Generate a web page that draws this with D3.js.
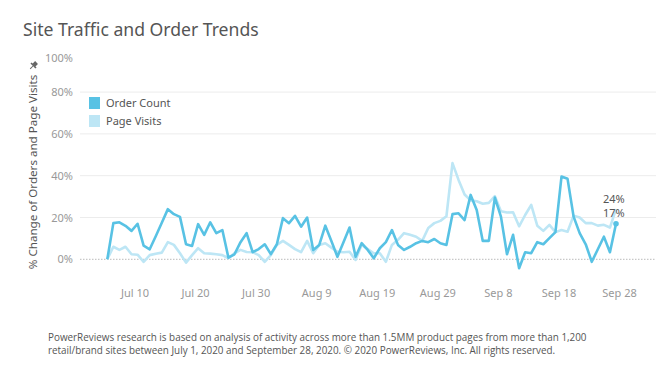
<!DOCTYPE html>
<html>
<head>
<meta charset="utf-8">
<script src="https://cdn.jsdelivr.net/npm/d3@7"></script>
<style>
  body { margin: 0; background: #fff; }
  svg { display: block; }
</style>
</head>
<body>
<div id="chart"></div>
<script>
// first day of the series, one value per day
const startDate = new Date(2020, 6, 6);

// % change of order count
const orderCount = [
  0, 17.3, 17.7, 16, 13.6, 17, 6.5, 4.8, 11, 17.5,
  24, 21.6, 20.3, 7.2, 6.4, 16.8, 11.7, 17.7, 12.5, 14,
  0.8, 2.4, 8.2, 12.5, 3.4, 4.9, 7.2, 2.5, 7.2, 19.7,
  17.3, 20.8, 15.6, 20, 4.5, 6.9, 16.1, 8.8, 1.2, 8.2,
  15.2, 1.2, 7.7, 4.5, 0.5, 5.3, 8.2, 14, 6.9, 4.5,
  6, 7.7, 8.8, 8.2, 9.7, 7.7, 6.9, 21.6, 22, 18.8,
  30.8, 23.6, 8.8, 8.8, 29.5, 20.4, 2.4, 11.7, -4.3, 3.4,
  2.9, 8.2, 7.2, 10.1, 13, 39.6, 38.5, 20.4, 12.5, 7.2,
  -1.2, 4.8, 10.8, 3.4, 17
];

// % change of page visits
const pageVisits = [
  0, 6, 4.5, 6, 2.4, 2.2, -1.2, 2, 2.7, 3.2,
  8.2, 6.9, 2.9, -1.6, 2, 5.3, 2.9, 2.7, 2.4, 2,
  0.5, 2.9, 4.5, 3.5, 3.4, 2, -1.2, 2, 6.9, 8.8,
  6.9, 4.9, 3.4, 8.8, 2.9, 6.9, 7.7, 5.6, 3.6, 3.4,
  3.6, -0.3, 6.9, 4.9, 2.9, 2.9, -1.2, 6.9, 9.3, 12.5,
  11.7, 10.8, 8.8, 15, 17.3, 18.4, 20.6, 46, 38, 31,
  28.2, 27.8, 26.6, 27, 30.2, 23, 22.4, 22.5, 15.8, 21.2,
  26, 16.1, 13.6, 16.5, 13, 14, 13.2, 20.9, 20, 17.3,
  17.3, 16.1, 16.5, 15.2, 24
];

const yTicks = [0, 20, 40, 60, 80, 100];
const xTickDates = [
  new Date(2020, 6, 10), new Date(2020, 6, 20), new Date(2020, 6, 30),
  new Date(2020, 7, 9), new Date(2020, 7, 19), new Date(2020, 7, 29),
  new Date(2020, 8, 8), new Date(2020, 8, 18), new Date(2020, 8, 28)
];

const seriesNames = ['Order Count', 'Page Visits'];
const endLabels = ['24%', '17%'];

const width = 660, height = 368;
const darkBlue = '#58c2e4';
const lightBlue = '#bde6f5';

const svg = d3.select('#chart').append('svg')
  .attr('width', width)
  .attr('height', height);

const dayOf = i => d3.timeDay.offset(startDate, i);

const x = d3.scaleTime()
  .domain([startDate, dayOf(orderCount.length - 1)])
  .range([107.3, 616]);

const y = d3.scaleLinear()
  .domain([0, 100])
  .range([259.3, 50.3]);

// title
svg.append('text')
  .attr('x', 23)
  .attr('y', 36)
  .style('font-family', '"Noto Sans", sans-serif')
  .style('font-size', '17.6px')
  .style('fill', '#555')
  .text('Site Traffic and Order Trends');

// gridlines
svg.append('g')
  .selectAll('line')
  .data(yTicks.filter(t => t > 0 && t < 100))
  .join('line')
  .attr('x1', 80).attr('x2', 656)
  .attr('y1', d => y(d)).attr('y2', d => y(d))
  .attr('stroke', '#ececec')
  .attr('stroke-width', 1);

// zero line, dotted
svg.append('line')
  .attr('x1', 80).attr('x2', 656)
  .attr('y1', y(0)).attr('y2', y(0))
  .attr('stroke', '#bbb')
  .attr('stroke-dasharray', '1.5,1.5');

// y axis labels
const yAxis = svg.append('g')
  .attr('transform', 'translate(76,0)')
  .call(d3.axisLeft(y).tickValues(yTicks).tickFormat(d => d + '%').tickSize(0));
yAxis.select('.domain').remove();
yAxis.selectAll('text')
  .style('font-family', '"Noto Sans", sans-serif')
  .style('font-size', '11px')
  .style('fill', '#999')
  .attr('dy', d => d === 100 ? '1.0em' : '0.32em');

// x axis labels
const xAxis = svg.append('g')
  .attr('transform', 'translate(0,286)')
  .call(d3.axisBottom(x).tickValues(xTickDates).tickFormat(d3.timeFormat('%b %-d')).tickSize(0));
xAxis.select('.domain').remove();
xAxis.selectAll('text')
  .attr('dx', 3)
  .style('font-family', '"Noto Sans", sans-serif')
  .style('font-size', '11px')
  .style('fill', '#999');

// y axis title
svg.append('text')
  .attr('transform', 'translate(37,172) rotate(-90)')
  .attr('text-anchor', 'middle')
  .style('font-family', '"Noto Sans", sans-serif')
  .style('font-size', '11.6px')
  .style('fill', '#555')
  .text('% Change of Orders and Page Visits');

// little pin next to the axis title
const pin = svg.append('g')
  .attr('transform', 'translate(33,66) rotate(45)')
  .attr('fill', '#666');
pin.append('rect').attr('x', -2).attr('y', -5).attr('width', 4).attr('height', 4);
pin.append('rect').attr('x', -3.5).attr('y', -1.5).attr('width', 7).attr('height', 1.6);
pin.append('line').attr('x1', 0).attr('x2', 0).attr('y1', 0).attr('y2', 4)
  .attr('stroke', '#666').attr('stroke-width', 1);

// lines
const line = d3.line()
  .x((d, i) => x(dayOf(i)))
  .y(d => y(d));

svg.append('path')
  .datum(pageVisits)
  .attr('fill', 'none')
  .attr('stroke', lightBlue)
  .attr('stroke-width', 2.6)
  .attr('stroke-linejoin', 'round')
  .attr('d', line);

svg.append('path')
  .datum(orderCount)
  .attr('fill', 'none')
  .attr('stroke', darkBlue)
  .attr('stroke-width', 2.6)
  .attr('stroke-linejoin', 'round')
  .attr('d', line);

// end dot on order count
const last = orderCount.length - 1;
svg.append('circle')
  .attr('cx', x(dayOf(last)))
  .attr('cy', y(orderCount[last]))
  .attr('r', 2.8)
  .attr('fill', darkBlue);

// end labels
svg.selectAll('.endLabel')
  .data(endLabels)
  .join('text')
  .attr('class', 'endLabel')
  .attr('x', 603)
  .attr('y', (d, i) => 203 + i * 14)
  .style('font-family', '"Noto Sans", sans-serif')
  .style('font-size', '11px')
  .style('fill', '#555')
  .text(d => d);

// legend
const legend = svg.append('g').attr('transform', 'translate(89,97)');
legend.selectAll('rect')
  .data(seriesNames)
  .join('rect')
  .attr('x', 0)
  .attr('y', (d, i) => i * 18)
  .attr('width', 11)
  .attr('height', 12)
  .attr('fill', (d, i) => i === 0 ? darkBlue : lightBlue);
legend.selectAll('text')
  .data(seriesNames)
  .join('text')
  .attr('x', 17)
  .attr('y', (d, i) => i * 18 + 10)
  .style('font-family', '"Noto Sans", sans-serif')
  .style('font-size', '11px')
  .style('fill', '#555')
  .text(d => d);

// footnote
const notes = [
  'PowerReviews research is based on analysis of activity across more than 1.5MM product pages from more than 1,200',
  'retail/brand sites between July 1, 2020 and September 28, 2020. \u00a9 2020 PowerReviews, Inc. All rights reserved.'
];
svg.selectAll('.note')
  .data(notes)
  .join('text')
  .attr('class', 'note')
  .attr('x', 48)
  .attr('y', (d, i) => 341 + i * 12.5)
  .style('font-family', '"Open Sans", sans-serif')
  .style('font-size', '9.9px')
  .style('fill', '#555')
  .text(d => d);
</script>
</body>
</html>
